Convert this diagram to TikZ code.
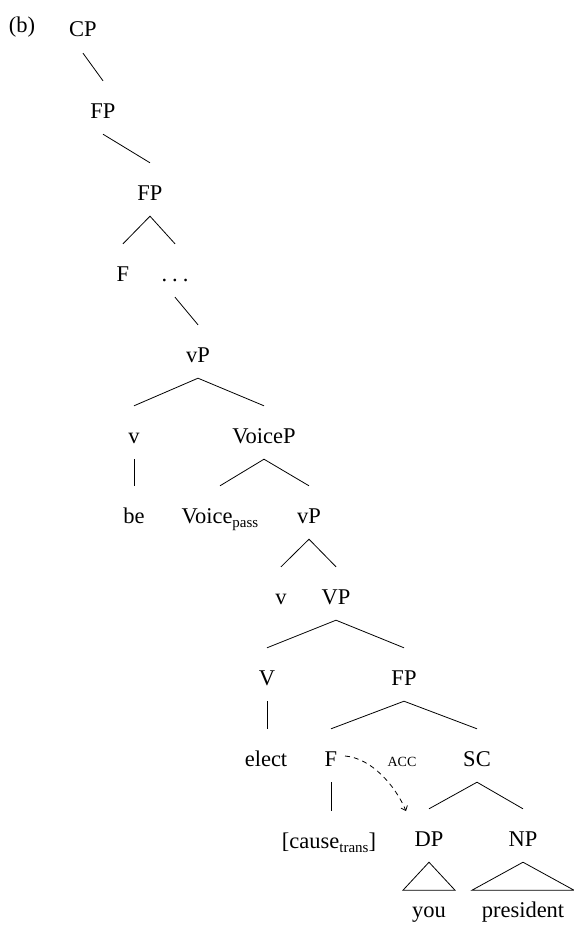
\documentclass[tikz,border=0pt]{standalone}
\usepackage{fontspec}
\setmainfont{Liberation Serif}
\usetikzlibrary{calc,arrows.meta}
\newcommand{\lsub}[1]{\raisebox{-4pt}{\fontsize{15}{15}\selectfont #1}}
\tikzset{tnode/.style={anchor=base, inner xsep=0pt, inner ysep=10pt,
    text height=27pt, text depth=6pt},
  branch/.style={line width=0.8pt}}

\begin{document}
\begin{tikzpicture}[x=1pt,y=-1pt,font=\fontsize{22.5}{27}\selectfont]
\useasboundingbox (0,0) rectangle (573,931);
\node[tnode] (lbl) at (22,33) {(b)};
\node[tnode] (cp) at (83,37) {CP};
\node[tnode] (fpa) at (103,118) {FP};
\node[tnode] (fpb) at (150,200) {FP};
\node[tnode] (fa) at (123,281) {F};
\node[tnode] (dots) at (175,281) {.\hspace{5pt}.\hspace{5pt}.};
\node[tnode] (vpa) at (198,362) {vP};
\node[tnode] (va) at (134,443) {v};
\node[tnode] (voicep) at (264,443) {VoiceP};
\node[tnode] (be) at (134,523) {be};
\node[tnode] (voice) at (220,523) {Voice\lsub{pass}};
\node[tnode] (vpb) at (309,523) {vP};
\node[tnode] (vb) at (281,604) {v};
\node[tnode] (vp) at (336,604) {VP};
\node[tnode] (V) at (267,685) {V};
\node[tnode] (fpc) at (404,685) {FP};
\node[tnode] (elect) at (266,766) {elect};
\node[tnode] (fb) at (331,766) {F};
\node[tnode] (sc) at (477,766) {SC};
\node[tnode] (cause) at (329,848) {[cause\lsub{trans}]};
\node[tnode] (dp) at (429,846) {DP};
\node[tnode] (np) at (523,846) {NP};
\node[tnode] (you) at (429,917) {you};
\node[tnode] (pres) at (523,917) {president};
\node[anchor=base, inner sep=0pt, font=\fontsize{14}{14}\selectfont] (acc) at (402,766) {ACC};
% branches
\draw[branch] (cp.south) -- (fpa.north);
\draw[branch] (fpa.south) -- (fpb.north);
\draw[branch] (fa.north) -- (fpb.south) -- (dots.north);
\draw[branch] (dots.south) -- (vpa.north);
\draw[branch] (va.north) -- (vpa.south) -- (voicep.north);
\draw[branch] (va.south) -- (be.north);
\draw[branch] (voice.north) -- (voicep.south) -- (vpb.north);
\draw[branch] (vb.north) -- (vpb.south) -- (vp.north);
\draw[branch] (V.north) -- (vp.south) -- (fpc.north);
\draw[branch] (V.south) -- (V.south |- elect.north);
\draw[branch] (fb.north) -- (fpc.south) -- (sc.north);
\draw[branch] (fb.south) -- (fb.south |- cause.north);
\draw[branch] (dp.north) -- (sc.south) -- (np.north);
% triangles
\draw[branch] (dp.south) -- ++(-26,28) -- ++(52,0) -- cycle;
\draw[branch] (np.south) -- ++(-51,28) -- ++(102,0) -- cycle;
% case arrow
\draw[branch, dash pattern=on 5pt off 4pt, -{Straight Barb[length=4pt,width=7pt]}]
  ($(fb.base)+(14,-10)$) .. controls ($(fb.base)+(40,-8)$) and ($(dp.base)+(-34,-61)$) .. ($(dp.base)+(-23,-35)$);
\end{tikzpicture}
\end{document}
